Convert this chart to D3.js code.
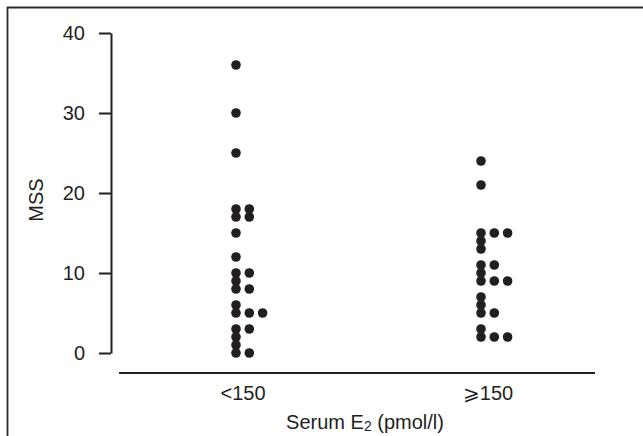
<!DOCTYPE html>
<html><head><meta charset="utf-8">
<script src="https://cdn.jsdelivr.net/npm/d3@7"></script>
<style>
body{margin:0;background:#fff;}
text{font-family:"Liberation Sans",Arial,Helvetica,sans-serif;fill:#231f20;}
</style></head>
<body><svg id="c" width="643" height="436"></svg>
<script>
const categories = ["<150", "\u2A7E150"];
const groupLow = [36,30,25,18,18,17,17,15,12,10,10,9,8,8,6,5,5,5,3,3,2,1,0,0];
const groupHigh = [24,21,15,15,15,14,13,11,11,10,9,9,9,7,6,5,5,3,2,2,2];
const yTicks = [0,10,20,30,40];
const series = [groupLow, groupHigh];

const svg = d3.select("#c");
const ink = "#231f20";
const fs = 20;

// frame
svg.append("path").attr("d","M7.5,440 V7.5 H650").attr("fill","none").attr("stroke","#2a2a2a").attr("stroke-width",1.8);

const y = d3.scaleLinear().domain([0,40]).range([353,33]);
const x = d3.scalePoint().domain(categories).range([236,481]);

// y axis
const yAxis = svg.append("g").attr("transform","translate(111,0)")
  .call(d3.axisLeft(y).tickValues(yTicks).tickSize(12).tickSizeOuter(0).tickPadding(14));
yAxis.select(".domain").attr("stroke",ink).attr("stroke-width",2);
yAxis.selectAll(".tick line").attr("stroke",ink).attr("stroke-width",2);
yAxis.selectAll(".tick text").attr("font-size",fs).attr("fill",ink)
  .style("font-family",'"Liberation Sans",Arial,sans-serif');

// x axis
svg.append("line").attr("x1",119).attr("x2",595).attr("y1",373).attr("y2",373)
  .attr("stroke",ink).attr("stroke-width",2);
svg.selectAll(".xl").data(categories).enter().append("text")
  .attr("x",d=>x(d)+7).attr("y",400).attr("text-anchor","middle")
  .attr("font-size",fs).text(d=>d);

// axis titles
const t = svg.append("text").attr("x",365).attr("y",429).attr("text-anchor","middle").attr("font-size",fs);
t.append("tspan").text("Serum E");
t.append("tspan").attr("font-size",14).attr("dy",2).text("2");
t.append("tspan").attr("dy",-2).text(" (pmol/l)");

svg.append("text").attr("transform","translate(43,200) rotate(-90)").attr("text-anchor","middle")
  .attr("font-size",fs).text("MSS");

// dots (beeswarm: equal values spread to the right)
const step = 13.3;
series.forEach((vals,gi)=>{
  const seen = {};
  const pts = vals.map(v=>{ const k = seen[v]||0; seen[v]=k+1; return {v,k}; });
  svg.append("g").selectAll("circle").data(pts).enter().append("circle")
    .attr("cx",d=>x(categories[gi])+d.k*step)
    .attr("cy",d=>y(d.v))
    .attr("r",4.8).attr("fill",ink);
});
</script></body></html>
